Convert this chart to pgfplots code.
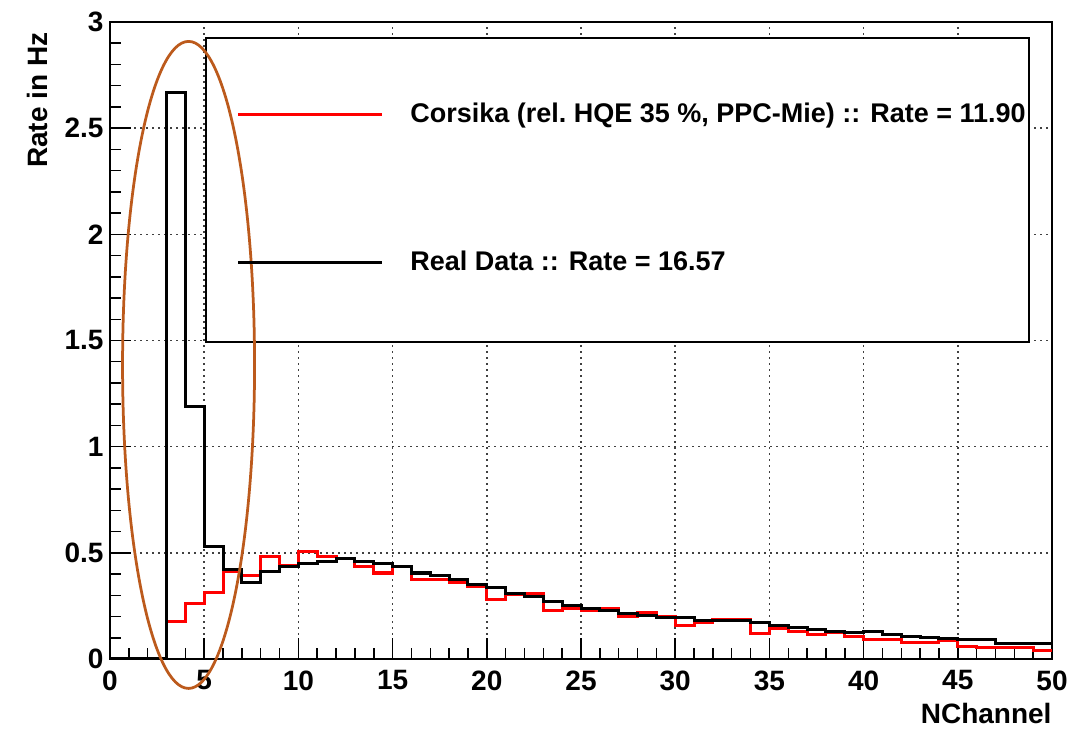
\documentclass[border=0pt]{standalone}
\usepackage{pgfplots}
\pgfplotsset{compat=1.18}
\usepackage{pgfplotstable}
\usepackage{fontspec}
\setmainfont{Liberation Sans}
\definecolor{ringbrown}{RGB}{188,90,28}
\newcommand{\rootfont}{\fontsize{11.2}{13}\selectfont\bfseries}

% left bin edge, content (last row closes the final bin at 50)
\pgfplotstableread{
x y
0 0
1 0
2 0
3 2.667
4 1.187
5 0.53
6 0.42
7 0.36
8 0.41
9 0.435
10 0.45
11 0.46
12 0.475
13 0.46
14 0.45
15 0.435
16 0.405
17 0.395
18 0.375
19 0.35
20 0.335
21 0.31
22 0.295
23 0.27
24 0.25
25 0.24
26 0.23
27 0.215
28 0.205
29 0.195
30 0.195
31 0.18
32 0.18
33 0.18
34 0.17
35 0.157
36 0.148
37 0.14
38 0.13
39 0.123
40 0.13
41 0.117
42 0.104
43 0.1
44 0.097
45 0.094
46 0.094
47 0.075
48 0.075
49 0.072
50 0.072
}\realdata

\pgfplotstableread{
x y
0 0
1 0
2 0
3 0.175
4 0.26
5 0.315
6 0.41
7 0.395
8 0.485
9 0.44
10 0.505
11 0.485
12 0.475
13 0.435
14 0.405
15 0.435
16 0.375
17 0.375
18 0.36
19 0.34
20 0.28
21 0.305
22 0.31
23 0.23
24 0.24
25 0.23
26 0.24
27 0.2
28 0.22
29 0.2
30 0.16
31 0.17
32 0.185
33 0.185
34 0.118
35 0.145
36 0.128
37 0.117
38 0.127
39 0.104
40 0.094
41 0.094
42 0.076
43 0.076
44 0.085
45 0.057
46 0.052
47 0.052
48 0.052
49 0.04
50 0.04
}\corsika

\begin{document}
\begin{tikzpicture}
\begin{axis}[
    scale only axis,
    width=376.8pt, height=254.8pt,
    xmin=0, xmax=50, ymin=0, ymax=3,
    xtick={0,5,...,50},
    ytick={0,0.5,1,1.5,2,2.5,3},
    minor x tick num=4, minor y tick num=4,
    tick pos=left, tick align=inside,
    major tick length=8.5pt, minor tick length=4.5pt,
    every tick/.style={black, line width=0.6pt},
    xmajorgrids, ymajorgrids,
    major grid style={black!75, line width=0.6pt, dash pattern=on 0.7pt off 1.7pt},
    axis line style={line width=1pt},
    /pgf/number format/assume math mode=true,
    ticklabel style={font=\rootfont},
    xticklabel style={inner sep=0pt, yshift=-4.4pt},
    yticklabel style={inner sep=0pt, xshift=-2.4pt},
    xlabel={NChannel}, ylabel={Rate in Hz},
    xlabel style={font=\rootfont, at={(rel axis cs:1,0)}, anchor=north east, inner sep=0pt, yshift=-17.6pt},
    ylabel style={font=\rootfont, at={(rel axis cs:0,1)}, anchor=south east, inner sep=0pt, yshift=24.8pt, xshift=-4pt},
    clip=false,
    legend cell align=left,
    legend style={at={(axis cs:6.69,2.215)}, anchor=west, draw=none, fill=none,
        inner sep=0pt, row sep=46pt, column sep=8.7pt,
        font=\fontsize{10.8}{13}\selectfont\bfseries},
    legend image code/.code={\draw[#1] (0pt,0pt) -- (57.6pt,0pt);},
]
\coordinate (bl) at (rel axis cs:0,0);
\coordinate (tr) at (rel axis cs:1,1);

\addplot[const plot, red, line width=1.2pt] table {\corsika};
\addlegendentry{Corsika (rel.\ HQE 35 \%, PPC-Mie) :: Rate = 11.90}

\addplot[const plot, black, line width=1.2pt] table {\realdata};
\addlegendentry{Real Data :: Rate = 16.57}

% legend frame as in the ROOT canvas
\draw[black, line width=0.8pt, fill=white] (axis cs:5.07,1.493) rectangle (axis cs:48.78,2.925);

% hand-drawn highlight around the low-NChannel peak
\draw[ringbrown, line width=1.1pt] (axis cs:4.17,1.385) ellipse [x radius=26.4pt, y radius=129.4pt];
\end{axis}
\path ([shift={(-44pt,-28.8pt)}]bl) rectangle ([shift={(7.6pt,8.8pt)}]tr);
\end{tikzpicture}
\end{document}
